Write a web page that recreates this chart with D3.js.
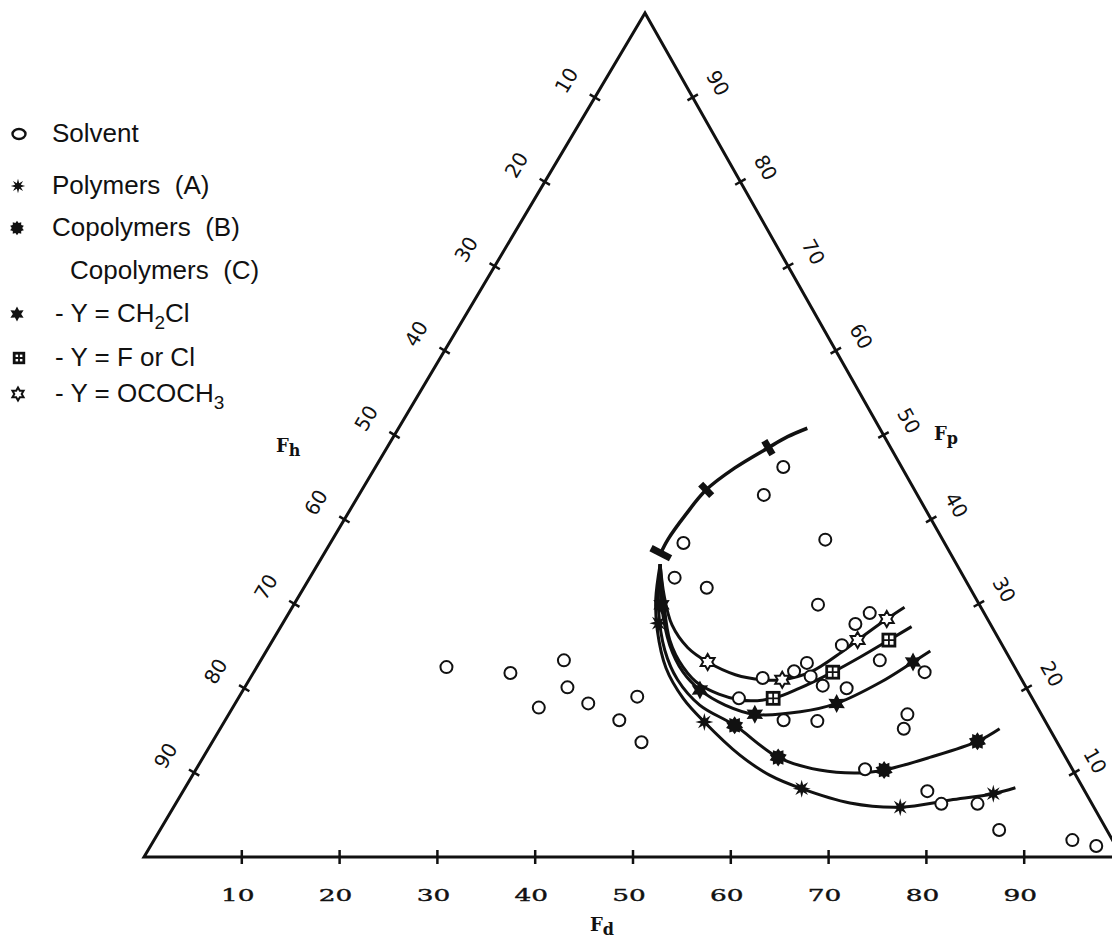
<!DOCTYPE html>
<meta charset="utf-8">
<title>Solubility parameter triangle</title>
<style>
body { margin: 0; background: white; }
svg { font-family: "Liberation Sans", Arial, sans-serif; }
.legend text { font-size: 26px; white-space: pre; fill: #111; }
.side-label { font-family: "DejaVu Sans", sans-serif; font-size: 20px; fill: #111; }
.base-label { font-family: "DejaVu Serif", serif; font-size: 17px; fill: #111; }
.axis-title { font-family: "DejaVu Serif", serif; font-weight: bold; font-size: 18px; fill: #111; }
</style>
<body>
<script src="https://d3js.org/d3.v7.min.js"></script>
<script>

// ---- data (Fd, Fp); Fh = 100 - Fd - Fp ----
const fdTicks = [10, 20, 30, 40, 50, 60, 70, 80, 90];
const fpTicks = [10, 20, 30, 40, 50, 60, 70, 80, 90];
const fhTicks = [10, 20, 30, 40, 50, 60, 70, 80, 90];

const solvents = [
  [19.4,22.5],[26.3,21.8],[31.0,23.3],[33.0,20.1],[31.3,17.7],[36.1,18.2],[40.7,19.0],[40.3,16.2],[43.9,13.6],
  [41.7,46.2],[41.4,42.9],[36.1,37.2],[50.4,37.6],[37.3,33.1],[41.2,31.9],[53.6,29.9],[59.4,28.9],[58.6,27.6],
  [58.5,25.1],[55.2,22.0],[56.0,23.0],[63.3,23.3],[52.4,21.2],[57.2,21.4],[59.0,20.3],[61.6,20.0],[51.2,18.8],
  [68.6,21.9],[57.1,16.2],[60.6,16.1],[69.4,16.9],[69.9,15.2],[68.4,10.4],[76.1,7.8],[78.3,6.3],[82.0,6.3],
  [85.8,3.2],[93.9,2.0],[96.7,1.3]
];

// upper curve (polymers, bar marks)
const curveTop = [[41.8,50.8],[40.3,49.8],[39.0,48.5],[36.8,46.1],[35.2,43.5],[34.6,40.5],[34.3,37.6],[34.4,36.0]];
const marksTop = [[39.0,48.5],[35.2,43.5],[34.4,36.0]];

// copolymers (C), Y = OCOCH3
const curveOAc = [[35.0,34.7],[37.3,31.0],[39.9,27.5],[42.9,24.8],[45.8,23.1],[49.4,21.6],[52.5,21.0],[54.5,21.0],
  [56.9,21.9],[58.9,24.3],[59.8,25.7],[61.5,28.2],[62.6,29.6]];
const marksOAc = [[45.8,23.1],[54.5,21.0],[59.8,25.7],[61.5,28.2]];

// copolymers (C), Y = F or Cl
const curveHal = [[35.0,34.7],[37.5,30.5],[40.6,25.7],[43.6,22.5],[46.4,20.4],[51.4,18.6],[54.7,18.8],[56.8,20.0],
  [59.2,21.9],[61.1,23.7],[63.0,25.7],[64.5,27.3]];
const marksHal = [[54.7,18.8],[59.2,21.9],[63.0,25.7]];

// copolymers (C), Y = CH2Cl
const curveCl = [[35.0,34.7],[37.6,29.9],[40.9,25.1],[43.9,21.9],[46.7,19.8],[50.2,18.0],[53.8,16.9],[58.3,17.2],
  [61.5,18.2],[64.7,20.7],[66.8,23.1],[67.9,24.4]];
const marksCl = [[37.6,29.9],[46.7,19.8],[53.8,16.9],[61.5,18.2],[66.8,23.1]];

// copolymers (B)
const curveB = [[35.0,34.7],[37.6,29.3],[40.7,24.5],[43.8,21.0],[47.6,18.0],[52.4,15.6],[58.8,11.8],[63.8,10.3],
  [68.1,9.95],[70.4,10.3],[74.3,11.8],[78.2,13.7],[79.7,15.2]];
const marksB = [[52.4,15.6],[58.8,11.8],[70.4,10.3],[78.2,13.7]];

// polymers (A)
const curveA = [[35.0,34.7],[36.7,30.5],[38.7,26.9],[41.9,22.4],[45.5,18.8],[49.1,16.0],[54.7,12.1],[59.0,9.7],
  [63.1,8.1],[68.9,6.4],[74.3,5.9],[79.0,6.75],[83.0,7.5],[84.9,8.2]];
const marksA = [[38.4,27.7],[49.1,16.0],[63.1,8.1],[74.3,5.9],[83.0,7.5]];

// ---- setup ----
const W = 1112, H = 943;
const svg = d3.select("body").append("svg").attr("width", W).attr("height", H);

// triangle corners: Fh=100 (left), Fd=100 (right), Fp=100 (top)
const A = [144, 857], B = [1122, 857], C = [645, 13];
const fdScale = d3.scaleLinear().domain([0, 100]).range([A, B]);
const fpScale = d3.scaleLinear().domain([0, 100]).range([[0, 0], [C[0] - A[0], C[1] - A[1]]]);
function pt(fd, fp) {
  const a = fdScale(fd), b = fpScale(fp);
  return [a[0] + b[0], a[1] + b[1]];
}

// triangle frame
svg.append("path")
  .attr("d", d3.line()([pt(0, 0), pt(100, 0), pt(0, 100)]) + "Z")
  .attr("fill", "none").attr("stroke", "#111").attr("stroke-width", 3)
  .attr("stroke-linejoin", "miter");

function unit(p, q) { const dx = q[0] - p[0], dy = q[1] - p[1], l = Math.hypot(dx, dy); return [dx / l, dy / l]; }

// bottom axis (Fd)
fdTicks.forEach(t => {
  const p = pt(t, 0);
  svg.append("line").attr("x1", p[0]).attr("x2", p[0]).attr("y1", p[1] - 7).attr("y2", p[1] + 7)
    .attr("stroke", "#111").attr("stroke-width", 2.5);
  svg.append("text").attr("class", "base-label")
    .attr("transform", "translate(" + (p[0] - 4) + "," + (p[1] + 44) + ") scale(1.55,1)")
    .attr("text-anchor", "middle").attr("stroke", "#111").attr("stroke-width", 0.4).text(t);
});

// left side (Fh)
const dL = unit(pt(0, 0), pt(0, 100)), nL = [dL[1], -dL[0]];
const angL = Math.atan2(dL[1], dL[0]) * 180 / Math.PI;
fhTicks.forEach(t => {
  const p = pt(0, 100 - t);
  svg.append("line").attr("x1", p[0] - nL[0] * 6).attr("y1", p[1] - nL[1] * 6)
    .attr("x2", p[0] + nL[0] * 6).attr("y2", p[1] + nL[1] * 6)
    .attr("stroke", "#111").attr("stroke-width", 2.5);
  const q = [p[0] + nL[0] * 33, p[1] + nL[1] * 33];
  svg.append("text").attr("class", "side-label")
    .attr("transform", "translate(" + q[0] + "," + q[1] + ") rotate(" + angL + ")")
    .attr("text-anchor", "middle").attr("dominant-baseline", "central").text(t);
});

// right side (Fp)
const dR = unit(pt(0, 100), pt(100, 0)), nR = [dR[1], -dR[0]];
const angR = Math.atan2(dR[1], dR[0]) * 180 / Math.PI;
fpTicks.forEach(t => {
  const p = pt(100 - t, t);
  svg.append("line").attr("x1", p[0] - nR[0] * 6).attr("y1", p[1] - nR[1] * 6)
    .attr("x2", p[0] + nR[0] * 6).attr("y2", p[1] + nR[1] * 6)
    .attr("stroke", "#111").attr("stroke-width", 2.5);
  const off = t === 10 ? 24 : 29;
  const q = [p[0] + nR[0] * off, p[1] + nR[1] * off];
  svg.append("text").attr("class", "side-label")
    .attr("transform", "translate(" + q[0] + "," + q[1] + ") rotate(" + angR + ")")
    .attr("text-anchor", "middle").attr("dominant-baseline", "central").text(t);
});

// axis titles
function axisTitle(x, y, sub) {
  const t = svg.append("text").attr("class", "axis-title").attr("x", x).attr("y", y);
  t.append("tspan").text("F");
  t.append("tspan").attr("dy", 4).attr("font-size", 16).text(sub);
}
axisTitle(276, 452, "h");
axisTitle(934, 440, "p");
axisTitle(590, 931, "d");

// ---- marker shapes ----
function starPath(n, r1, r2) {
  const pts = [];
  for (let i = 0; i < 2 * n; i++) {
    const a = -Math.PI / 2 + i * Math.PI / n, r = i % 2 ? r2 : r1;
    pts.push([Math.cos(a) * r, Math.sin(a) * r]);
  }
  return d3.line()(pts) + "Z";
}
function drawMarker(g, kind, s) {
  s = s || 1;
  if (kind === "solvent") {
    g.append("circle").attr("r", 6 * s).attr("fill", "white").attr("stroke", "#111").attr("stroke-width", 2);
  } else if (kind === "A") {
    g.append("path").attr("d", starPath(8, 9 * s, 3.8 * s)).attr("fill", "#111");
  } else if (kind === "B") {
    g.append("path").attr("d", starPath(10, 9 * s, 6.5 * s)).attr("fill", "#111");
  } else if (kind === "Cl") {
    g.append("path").attr("d", starPath(6, 9.5 * s, 5.2 * s)).attr("fill", "#111");
  } else if (kind === "Hal") {
    const h = 6 * s;
    g.append("rect").attr("x", -h).attr("y", -h).attr("width", 2 * h).attr("height", 2 * h)
      .attr("fill", "white").attr("stroke", "#111").attr("stroke-width", 2.8);
    g.append("path").attr("d", `M${-h},0H${h}M0,${-h}V${h}`).attr("stroke", "#111").attr("stroke-width", 1.8);
  } else if (kind === "OAc") {
    g.append("path").attr("d", starPath(6, 8 * s, 4.6 * s)).attr("fill", "white")
      .attr("stroke", "#111").attr("stroke-width", 2);
  }
}

// ---- curves ----
const line = d3.line().x(d => pt(d[0], d[1])[0]).y(d => pt(d[0], d[1])[1]).curve(d3.curveCatmullRom.alpha(0.5));
const series = [
  {curve: curveA, marks: marksA, kind: "A"},
  {curve: curveB, marks: marksB, kind: "B"},
  {curve: curveCl, marks: marksCl, kind: "Cl"},
  {curve: curveHal, marks: marksHal, kind: "Hal"},
  {curve: curveOAc, marks: marksOAc, kind: "OAc"}
];
svg.append("path").attr("d", line(curveTop)).attr("fill", "none").attr("stroke", "#111").attr("stroke-width", 3.5);
series.forEach(s => {
  svg.append("path").attr("d", line(s.curve)).attr("fill", "none").attr("stroke", "#111").attr("stroke-width", 3);
});

// bar marks on the upper curve, across the line
marksTop.forEach((m, k) => {
  let best = 0, bd = Infinity;
  curveTop.forEach((c, i) => { const d = Math.hypot(c[0] - m[0], c[1] - m[1]); if (d < bd) { bd = d; best = i; } });
  const p0 = pt(...curveTop[Math.max(best - 1, 0)]), p1 = pt(...curveTop[Math.min(best + 1, curveTop.length - 1)]);
  const ang = Math.atan2(p1[1] - p0[1], p1[0] - p0[0]) * 180 / Math.PI;
  const p = pt(m[0], m[1]);
  const len = k === marksTop.length - 1 ? 22 : 16;
  svg.append("rect").attr("x", -3.5).attr("y", -len / 2).attr("width", 7).attr("height", len)
    .attr("fill", "#111").attr("transform", "translate(" + p[0] + "," + p[1] + ") rotate(" + ang + ")");
});

// solvents
solvents.forEach(d => {
  const p = pt(d[0], d[1]);
  drawMarker(svg.append("g").attr("transform", "translate(" + p[0] + "," + p[1] + ")"), "solvent");
});

series.forEach(s => {
  s.marks.forEach(d => {
    const p = pt(d[0], d[1]);
    drawMarker(svg.append("g").attr("transform", "translate(" + p[0] + "," + p[1] + ")"), s.kind);
  });
});

// ---- legend ----
const legendKinds = ["solvent", "A", "B", null, "Cl", "Hal", "OAc"];
const legendTexts = [
  [["Solvent"]],
  [["Polymers  (A)"]],
  [["Copolymers  (B)"]],
  [["Copolymers  (C)"]],
  [["- Y = CH"], ["2", "sub"], ["Cl"]],
  [["- Y = F or Cl"]],
  [["- Y = OCOCH"], ["3", "sub"]]
];
const legendY = [142, 194, 236, 279, 322, 366, 402];
const legendTextX = [52, 52, 52, 70, 55, 55, 55];
const legendMarkX = [19, 18, 17, null, 17, 19, 18];

const lg = svg.append("g").attr("class", "legend");
legendTexts.forEach((parts, i) => {
  if (legendKinds[i]) {
    const g = lg.append("g").attr("transform", "translate(" + legendMarkX[i] + "," + (legendY[i] - 8) + ")");
    if (legendKinds[i] === "solvent") {
      g.append("ellipse").attr("rx", 6.5).attr("ry", 5).attr("fill", "white").attr("stroke", "#111").attr("stroke-width", 2.4);
    } else {
      drawMarker(g, legendKinds[i], 0.8);
    }
  }
  const t = lg.append("text").attr("x", legendTextX[i]).attr("y", legendY[i]).attr("xml:space", "preserve");
  let shifted = false;
  parts.forEach(p => {
    const ts = t.append("tspan").text(p[0]);
    if (p[1] === "sub") { ts.attr("dy", 7).attr("font-size", 19); shifted = true; }
    else if (shifted) { ts.attr("dy", -7); shifted = false; }
  });
});

</script>
</body>
